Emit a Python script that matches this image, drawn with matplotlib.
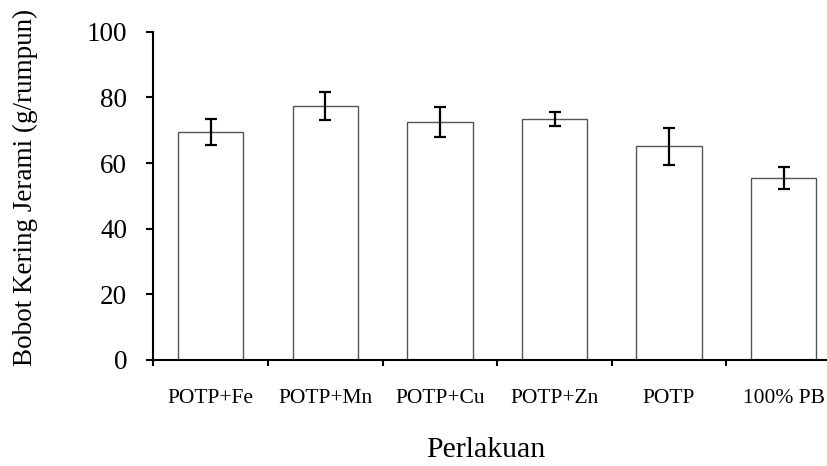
import matplotlib
matplotlib.use('Agg')
import matplotlib.pyplot as plt
import numpy as np

perlakuan = ['POTP+Fe', 'POTP+Mn', 'POTP+Cu', 'POTP+Zn', 'POTP', '100% PB']
bobot = [69.5, 77.3, 72.5, 73.3, 65.1, 55.5]
galat = [3.9, 4.25, 4.6, 2.1, 5.6, 3.3]
yticks = [0, 20, 40, 60, 80, 100]

plt.rcParams['font.family'] = 'Liberation Serif'

fig = plt.figure(figsize=(8.27, 4.66), dpi=100)
ax = fig.add_axes([0.1856, 0.2275, 0.8313, 0.7045])

x = np.arange(len(perlakuan))
ax.bar(x, bobot, width=0.57, color='white', edgecolor='#555555', linewidth=1.0)
ax.errorbar(x, bobot, yerr=galat, fmt='none', ecolor='black',
            elinewidth=1.6, capsize=4, capthick=1.6)

ax.set_xlim(-0.5, len(perlakuan) - 0.5)
ax.set_ylim(0, 100)
ax.set_yticks(yticks)
ax.tick_params(axis='y', labelsize=19.5, width=1.5, length=5, pad=14)

ax.set_xticks(x)
ax.set_xticklabels(perlakuan)
ax.set_xticks(np.arange(len(perlakuan) + 1) - 0.5, minor=True)
ax.tick_params(axis='x', which='major', length=0, labelsize=15.5, pad=21)
ax.tick_params(axis='x', which='minor', length=4, width=1.5)

for s in ['top', 'right']:
    ax.spines[s].set_visible(False)
for s in ['left', 'bottom']:
    ax.spines[s].set_linewidth(1.5)

ax.set_ylabel('Bobot Kering Jerami (g/rumpun)', fontsize=19.5)
ax.yaxis.set_label_coords(-0.168, 0.527)
ax.set_xlabel('Perlakuan', fontsize=21.5)
ax.xaxis.set_label_coords(0.483, -0.235)

fig.savefig('out.png', dpi=100)
